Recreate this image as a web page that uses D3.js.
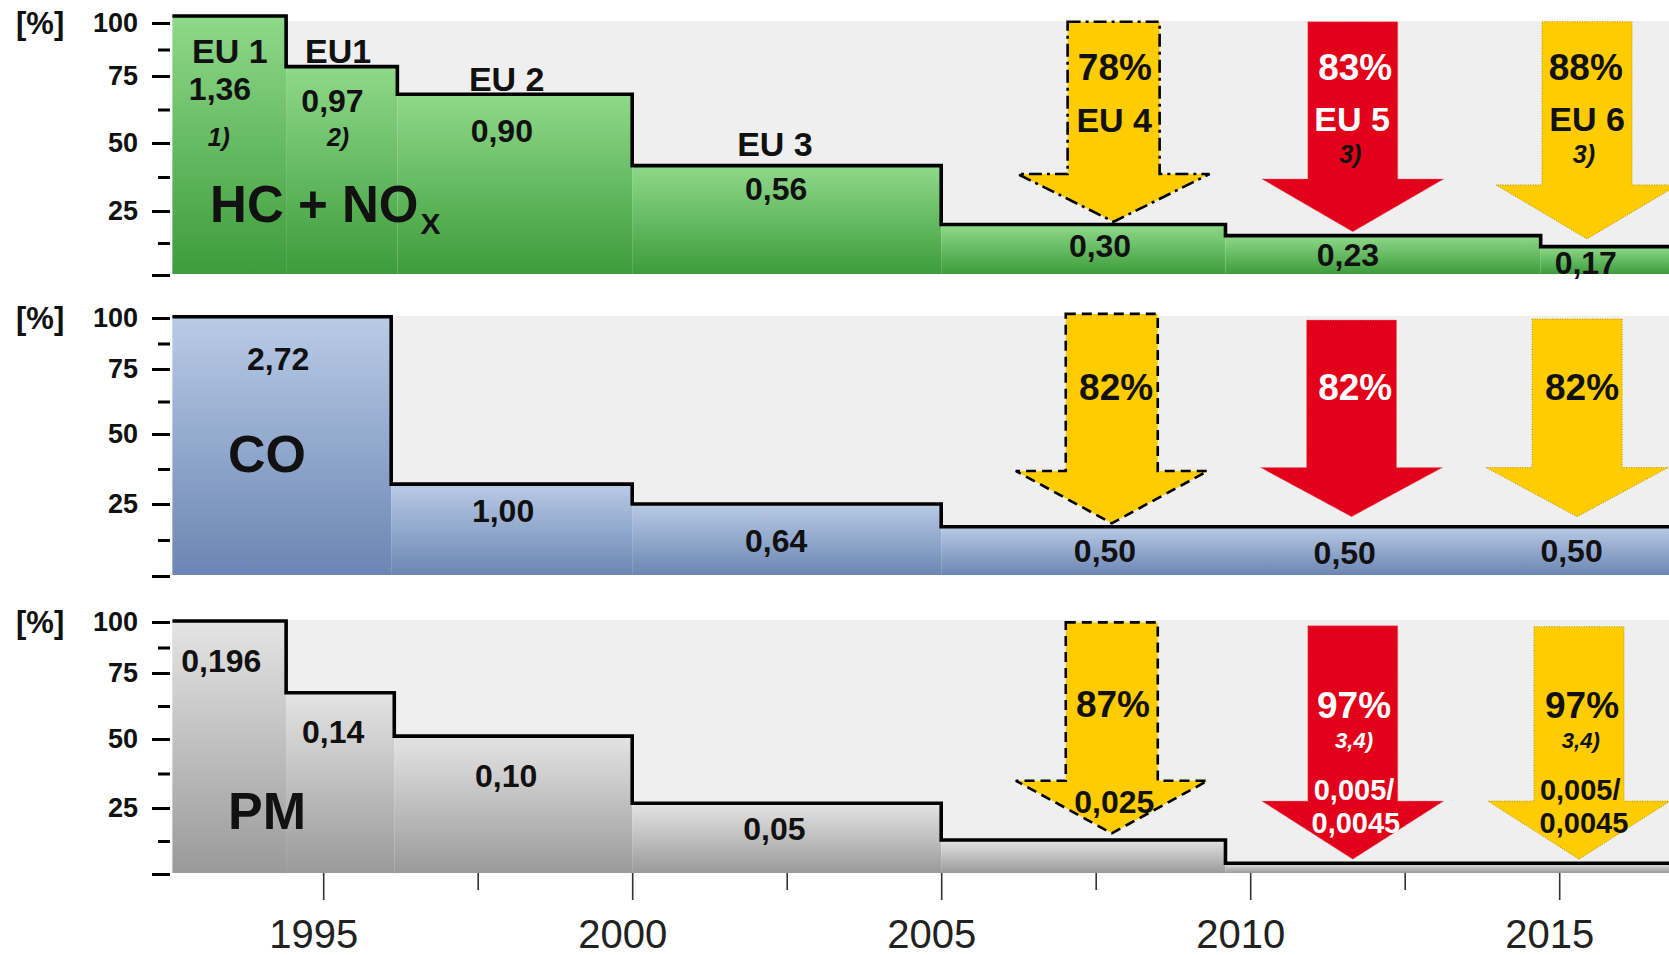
<!DOCTYPE html>
<html><head><meta charset="utf-8">
<script src="https://cdn.jsdelivr.net/npm/d3@7"></script>
<style>
html,body{margin:0;padding:0;background:#fff;}
svg{display:block;font-family:"Liberation Sans",Arial,sans-serif;}
</style></head><body>
<svg id="chart" width="1669" height="955"></svg>
<script>
// ---------------- data ----------------
const yTickValues = [0, 25, 50, 75, 100];
const yMinorTicks = [12.5, 37.5, 62.5, 87.5];
const yearTicks = [1995, 2000, 2005, 2010, 2015];
const yearMinorTicks = [1997.5, 2002.5, 2007.5, 2012.5];

// step levels [% of first limit], as drawn
const hcBreaks = [1992.56, 1994.4, 1996.2, 2000, 2005, 2009.6, 2014.7, 2017.5];
const hcValues = [103.3, 79.4, 68.2, 41.7, 19.7, 15.4, 11.1];
const coBreaks = [1992.56, 1996.1, 2000, 2005, 2017.5];
const coValues = [100.6, 32.1, 25.0, 17.1];
const pmBreaks = [1992.56, 1994.4, 1996.15, 2000, 2005, 2009.6, 2017.5];
const pmValues = [100.5, 67.5, 51.1, 26.7, 12.9, 4.1];

// reduction arrows: stage, centre year, top / head-base / tip level [%]
const hcArrows = [
  {stage: "EU 4", year: 2007.79, top: 100.6, base: 38.6, tip: 20.8},
  {stage: "EU 5", year: 2011.66, top: 100.6, base: 36.8, tip: 16.9},
  {stage: "EU 6", year: 2015.45, top: 100.6, base: 34.6, tip: 14.1}
];
const coArrows = [
  {stage: "EU 4", year: 2007.76, top: 102.0, base: 36.8, tip: 18.3},
  {stage: "EU 5", year: 2011.64, top: 99.0, base: 38.0, tip: 20.6},
  {stage: "EU 6", year: 2015.29, top: 99.5, base: 38.0, tip: 20.6}
];
const pmArrows = [
  {stage: "EU 4", year: 2007.76, top: 99.8, base: 34.9, tip: 15.4},
  {stage: "EU 5", year: 2011.66, top: 98.2, base: 27.5, tip: 5.6},
  {stage: "EU 6", year: 2015.32, top: 97.7, base: 27.5, tip: 5.6}
];

// labels: text, year, level [%], role, (white on red)
const hcLabels = [
  ["EU 1", 1993.49, 81.1, "stage"],
  ["1,36", 1993.33, 66.0, "limit"],
  ["1)", 1993.31, 48.9, "note"],
  ["EU1", 1995.24, 81.1, "stage"],
  ["0,97", 1995.15, 61.6, "limit"],
  ["2)", 1995.24, 48.9, "note"],
  ["EU 2", 1997.97, 69.4, "stage"],
  ["0,90", 1997.89, 50.4, "limit"],
  ["EU 3", 2002.31, 45.2, "stage"],
  ["0,56", 2002.33, 29.0, "limit"],
  ["0,30", 2007.57, 7.0, "limit"],
  ["0,23", 2011.58, 3.5, "limit"],
  ["0,17", 2015.43, 0.4, "limit"],
  ["78%", 2007.81, 73.5, "reduction"],
  ["EU 4", 2007.80, 54.1, "arrowStage"],
  ["83%", 2011.70, 73.5, "reduction", true],
  ["EU 5", 2011.65, 54.5, "arrowStage", true],
  ["3)", 2011.62, 42.6, "note"],
  ["88%", 2015.43, 73.5, "reduction"],
  ["EU 6", 2015.45, 54.5, "arrowStage"],
  ["3)", 2015.40, 42.6, "note"]
];
const coLabels = [
  ["2,72", 1994.27, 74.6, "limit"],
  ["1,00", 1997.91, 18.75, "limit"],
  ["0,64", 2002.33, 8.3, "limit"],
  ["0,50", 2007.65, 4.9, "limit"],
  ["0,50", 2011.53, 4.2, "limit"],
  ["0,50", 2015.20, 4.9, "limit"],
  ["82%", 2007.83, 63.1, "reduction"],
  ["82%", 2011.70, 63.1, "reduction", true],
  ["82%", 2015.37, 63.1, "reduction"]
];
const pmLabels = [
  ["0,196", 1993.35, 75.5, "limit"],
  ["0,14", 1995.16, 48.6, "limit"],
  ["0,10", 1997.96, 32.6, "limit"],
  ["0,05", 2002.30, 12.9, "limit"],
  ["87%", 2007.78, 58.3, "reduction"],
  ["0,025", 2007.80, 23.1, "limit"],
  ["97%", 2011.68, 58.0, "reduction", true],
  ["3,4)", 2011.68, 46.6, "smallNote", true],
  ["0,005/", 2011.68, 27.9, "small", true],
  ["0,0045", 2011.71, 15.5, "small", true],
  ["97%", 2015.37, 58.0, "reduction"],
  ["3,4)", 2015.35, 46.6, "smallNote"],
  ["0,005/", 2015.34, 27.9, "small"],
  ["0,0045", 2015.40, 15.5, "small"]
];
// pollutant names: text, subscript, year, level
const hcName = ["HC + NO", "X", 1993.17, 20.7];
const coName = ["CO", "", 1993.46, 36.4];
const pmName = ["PM", "", 1993.46, 17.0];

// ---------------- layout & style ----------------
const W = 1669, H = 955;
const svg = d3.select("#chart");
const x = d3.scaleLinear().domain([1995, 2015]).range([323.2, 1559.2]);

const roleStyle = {
  stage:      {size: 34, weight: "bold", italic: false},
  limit:      {size: 32, weight: "bold", italic: false},
  small:      {size: 29, weight: "bold", italic: false},
  note:       {size: 25, weight: "bold", italic: true},
  smallNote:  {size: 22, weight: "bold", italic: true},
  reduction:  {size: 37, weight: "bold", italic: false},
  arrowStage: {size: 34, weight: "bold", italic: false}
};
const arrowStyle = {
  "EU 4": {fill: "#ffcc00", stroke: "#000", sw: 2.6, shaft: 46, head: 96},
  "EU 5": {fill: "#e2001a", stroke: "#f07a84", sw: 1, dash: "1,1.5", shaft: 45, head: 91},
  "EU 6": {fill: "#ffcc00", stroke: "#b89200", sw: 1, dash: "1,1.5", shaft: 45, head: 91}
};

const panels = [
  {breaks: hcBreaks, values: hcValues, arrows: hcArrows, labels: hcLabels, name: hcName, nameSize: 51,
   range: [275, 211, 143, 76, 23], grad: ["#8fd98a", "#3d9c3b"], eu4Dash: "13,5,3,5", gid: "gHC"},
  {breaks: coBreaks, values: coValues, arrows: coArrows, labels: coLabels, name: coName, nameSize: 52,
   range: [576, 504, 434, 369, 318], grad: ["#b9cbe6", "#6b86b3"], eu4Dash: "10,6", gid: "gCO"},
  {breaks: pmBreaks, values: pmValues, arrows: pmArrows, labels: pmLabels, name: pmName, nameSize: 52,
   range: [874, 808, 739, 673, 622], grad: ["#e4e4e4", "#9a9a9a"], eu4Dash: "10,6", gid: "gPM"}
];

const defs = svg.append("defs");
panels.forEach(p => {
  const g = defs.append("linearGradient").attr("id", p.gid)
    .attr("x1", 0).attr("y1", 0).attr("x2", 0).attr("y2", 1);
  g.append("stop").attr("offset", "0%").attr("stop-color", p.grad[0]);
  g.append("stop").attr("offset", "100%").attr("stop-color", p.grad[1]);
});

panels.forEach(p => {
  const y = d3.scaleLinear().domain(yTickValues).range(p.range);
  const g = svg.append("g");
  const x0 = x(p.breaks[0]);

  // light grey plot background
  g.append("rect")
    .attr("x", x0).attr("y", y(100) - 2)
    .attr("width", W - x0).attr("height", y(0) - y(100) + 1)
    .attr("fill", "#efefef");

  // filled steps
  const segs = p.values.map((v, i) => ({v, a: p.breaks[i], b: p.breaks[i + 1]}));
  g.selectAll("rect.seg").data(segs).join("rect").attr("class", "seg")
    .attr("x", d => x(d.a)).attr("width", d => x(d.b) - x(d.a))
    .attr("y", d => y(d.v)).attr("height", d => y(0) - 1 - y(d.v))
    .attr("fill", `url(#${p.gid})`);

  // arrows
  p.arrows.forEach(a => {
    const st = arrowStyle[a.stage];
    const cx = x(a.year);
    const pts = [[cx - st.shaft, y(a.top)], [cx + st.shaft, y(a.top)], [cx + st.shaft, y(a.base)],
                 [cx + st.head, y(a.base)], [cx, y(a.tip)], [cx - st.head, y(a.base)], [cx - st.shaft, y(a.base)]];
    g.append("path").attr("d", d3.line()(pts) + "Z")
      .attr("fill", st.fill).attr("stroke", st.stroke).attr("stroke-width", st.sw)
      .attr("stroke-dasharray", a.stage === "EU 4" ? p.eu4Dash : st.dash)
      .attr("stroke-linejoin", "miter");
  });

  // step line
  const pts = p.values.map((v, i) => [p.breaks[i], v]);
  pts.push([p.breaks[p.breaks.length - 1], p.values[p.values.length - 1]]);
  g.append("path")
    .attr("d", d3.line().x(d => x(d[0])).y(d => y(d[1])).curve(d3.curveStepAfter)(pts))
    .attr("fill", "none").attr("stroke", "#000").attr("stroke-width", 3.6)
    .attr("stroke-linejoin", "miter");

  // y axis
  const ax = g.append("g").attr("transform", "translate(170,0)")
    .call(d3.axisLeft(y).tickValues(yTickValues).tickSize(18).tickPadding(14)
      .tickFormat(d => d === 0 ? "" : d));
  const axm = g.append("g").attr("transform", "translate(170,0)")
    .call(d3.axisLeft(y).tickValues(yMinorTicks).tickSize(12).tickFormat(""));
  [ax, axm].forEach(a => {
    a.select(".domain").remove();
    a.selectAll("line").attr("stroke", "#000").attr("stroke-width", 3);
  });
  ax.selectAll("text").attr("font-size", 27).attr("font-weight", "bold")
    .attr("fill", "#111").attr("font-family", "Liberation Sans, Arial, sans-serif");
  g.append("text").attr("x", 16).attr("y", y(100)).attr("dy", "0.36em")
    .attr("font-size", 31).attr("font-weight", "bold").attr("fill", "#111").text("[%]");

  // labels
  g.selectAll("text.lab").data(p.labels).join("text").attr("class", "lab")
    .attr("x", d => x(d[1])).attr("y", d => y(d[2]))
    .attr("text-anchor", "middle")
    .attr("font-size", d => roleStyle[d[3]].size)
    .attr("font-weight", d => roleStyle[d[3]].weight)
    .attr("font-style", d => roleStyle[d[3]].italic ? "italic" : "normal")
    .attr("fill", d => d[4] ? "#fff" : "#111")
    .text(d => d[0]);

  // pollutant name
  const nm = g.append("text").attr("x", x(p.name[2])).attr("y", y(p.name[3]))
    .attr("font-size", p.nameSize).attr("font-weight", "bold").attr("fill", "#111");
  nm.append("tspan").text(p.name[0]);
  if (p.name[1]) nm.append("tspan").attr("dx", 2).attr("dy", 12).attr("font-size", 30).text(p.name[1]);
});

// x axis (below last panel)
const yBottom = panels[2].range[0];
const xa = svg.append("g").attr("transform", `translate(0,${yBottom - 1})`)
  .call(d3.axisBottom(x).tickValues(yearTicks).tickSize(27).tickFormat(d3.format("d")));
const xm = svg.append("g").attr("transform", `translate(0,${yBottom - 1})`)
  .call(d3.axisBottom(x).tickValues(yearMinorTicks).tickSize(17).tickFormat(""));
[xa, xm].forEach(a => {
  a.select(".domain").remove();
  a.selectAll("line").attr("stroke", "#333").attr("stroke-width", 1.6);
});
xa.selectAll("text").attr("y", 75).attr("dy", 0).attr("dx", -10).attr("font-size", 40)
  .attr("fill", "#222").attr("font-family", "Liberation Sans, Arial, sans-serif");
</script>
</body></html>
